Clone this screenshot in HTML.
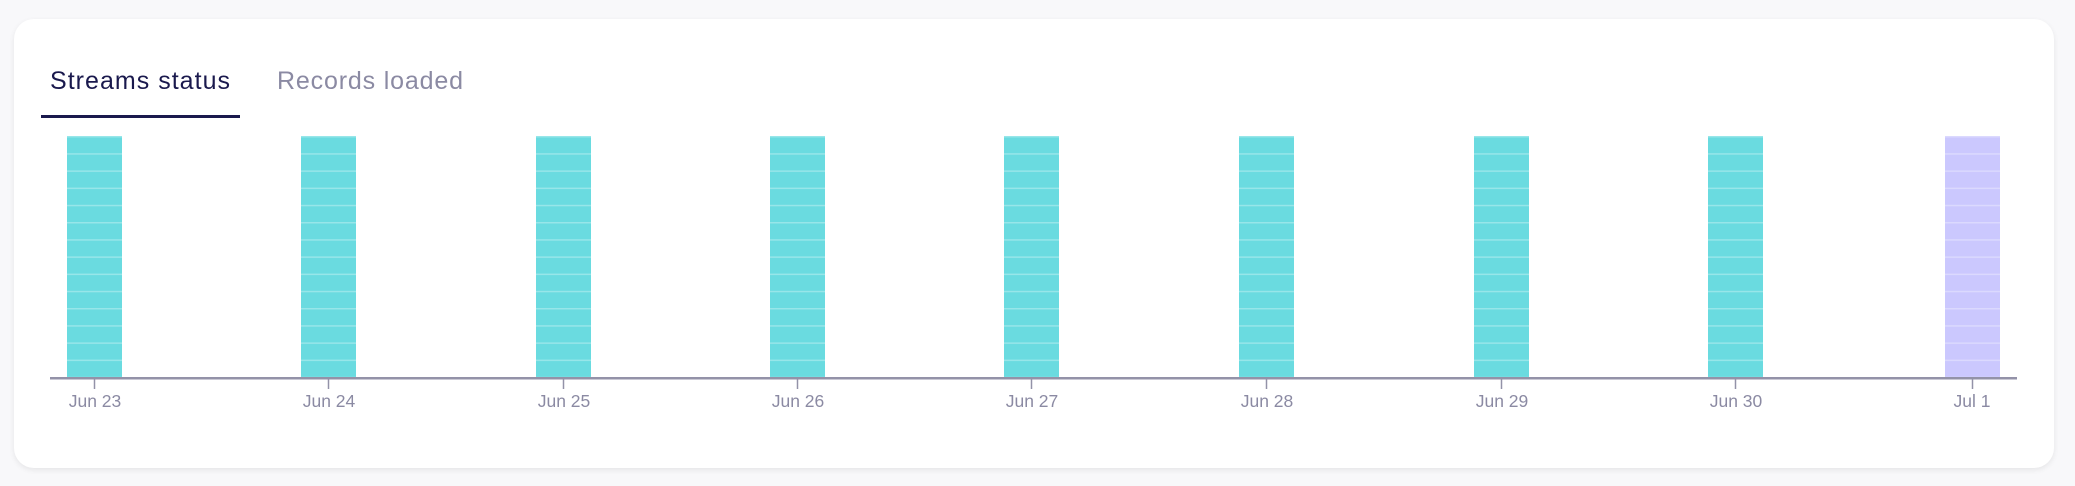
<!DOCTYPE html>
<html><head><meta charset="utf-8"><style>
html,body{margin:0;padding:0;background:#f8f8fa;width:2075px;height:486px;overflow:hidden}
.card{position:absolute;left:14px;top:19px;width:2040px;height:449px;background:#fff;border-radius:20px;box-shadow:0 2px 6px rgba(0,0,0,0.08)}
svg{position:absolute;left:0;top:0}
</style></head><body>
<div class="card"></div>
<svg width="2075" height="486" xmlns="http://www.w3.org/2000/svg" font-family="Liberation Sans, sans-serif">
<text x="50" y="89" font-size="25" fill="#1a194d" textLength="180">Streams status</text>
<text x="277" y="89" font-size="25" fill="#8b8aa3" textLength="186">Records loaded</text>
<rect x="41" y="115" width="199" height="3" fill="#1a194d"/>
<defs>
<pattern id="st" x="0" y="136" width="10" height="17.2" patternUnits="userSpaceOnUse">
<rect x="0" y="0" width="10" height="1.5" fill="rgba(255,255,255,0.3)"/>
</pattern>
</defs>
<g>
<rect x="67" y="136" width="55" height="242" fill="#6adbe0"/>
<rect x="301" y="136" width="55" height="242" fill="#6adbe0"/>
<rect x="536" y="136" width="55" height="242" fill="#6adbe0"/>
<rect x="770" y="136" width="55" height="242" fill="#6adbe0"/>
<rect x="1004" y="136" width="55" height="242" fill="#6adbe0"/>
<rect x="1239" y="136" width="55" height="242" fill="#6adbe0"/>
<rect x="1474" y="136" width="55" height="242" fill="#6adbe0"/>
<rect x="1708" y="136" width="55" height="242" fill="#6adbe0"/>
<rect x="1945" y="136" width="55" height="242" fill="#cbc8fe"/>
</g>
<g fill="url(#st)">
<rect x="67" y="136" width="55" height="242"/>
<rect x="301" y="136" width="55" height="242"/>
<rect x="536" y="136" width="55" height="242"/>
<rect x="770" y="136" width="55" height="242"/>
<rect x="1004" y="136" width="55" height="242"/>
<rect x="1239" y="136" width="55" height="242"/>
<rect x="1474" y="136" width="55" height="242"/>
<rect x="1708" y="136" width="55" height="242"/>
<rect x="1945" y="136" width="55" height="242"/>
</g>
<rect x="50" y="377" width="1967" height="2.5" fill="#9392a8"/>
<g stroke="#9392a8" stroke-width="1.5">
<line x1="94.5" y1="379" x2="94.5" y2="389"/><line x1="328.5" y1="379" x2="328.5" y2="389"/><line x1="563.5" y1="379" x2="563.5" y2="389"/><line x1="797.5" y1="379" x2="797.5" y2="389"/><line x1="1031.5" y1="379" x2="1031.5" y2="389"/><line x1="1266.5" y1="379" x2="1266.5" y2="389"/><line x1="1501.5" y1="379" x2="1501.5" y2="389"/><line x1="1735.5" y1="379" x2="1735.5" y2="389"/><line x1="1972.5" y1="379" x2="1972.5" y2="389"/>
</g>
<g font-size="17.5" fill="#8b8aa3" text-anchor="middle">
<text x="95" y="407">Jun 23</text><text x="329" y="407">Jun 24</text><text x="564" y="407">Jun 25</text><text x="798" y="407">Jun 26</text><text x="1032" y="407">Jun 27</text><text x="1267" y="407">Jun 28</text><text x="1502" y="407">Jun 29</text><text x="1736" y="407">Jun 30</text><text x="1972" y="407">Jul 1</text>
</g>
</svg>
</body></html>
